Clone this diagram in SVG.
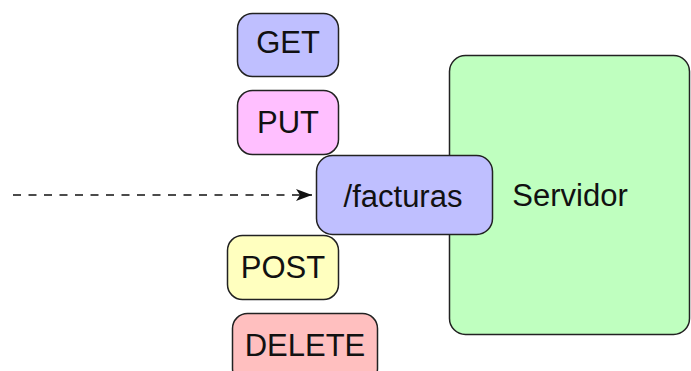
<svg xmlns="http://www.w3.org/2000/svg" width="691" height="371" viewBox="0 0 691 371">
  <defs>
    <style>
      .box { stroke: #222; stroke-width: 1.5; }
      .lbl { font-family: "Liberation Sans", Arial, Helvetica, sans-serif; font-size: 31px; fill: #111; text-anchor: middle; }
      .edge { fill: none; stroke: #111; stroke-width: 1.5; stroke-dasharray: 8 7.5; }
    </style>
    <marker id="arrow" viewBox="0 0 16 12" refX="16" refY="6" markerWidth="16" markerHeight="12" markerUnits="userSpaceOnUse" orient="auto">
      <path d="M0,0 L16,6 L0,12 L4,6 Z" fill="#111"/>
    </marker>
  </defs>
  <rect width="691" height="371" fill="#fff"/>

  <g id="servidor">
    <rect class="box" x="449.5" y="55.5" width="240" height="279" rx="16" fill="#bfffbf"/>
    <text class="lbl" x="570" y="206">Servidor</text>
  </g>

  <g id="get">
    <rect class="box" x="237.5" y="13.5" width="101" height="63" rx="15" fill="#bfbfff"/>
    <text class="lbl" x="288" y="53">GET</text>
  </g>

  <g id="put">
    <rect class="box" x="237.5" y="90.5" width="101" height="64" rx="15" fill="#ffbfff"/>
    <text class="lbl" x="288" y="133">PUT</text>
  </g>

  <g id="facturas">
    <rect class="box" x="316.5" y="155.5" width="176" height="79" rx="16" fill="#bfbfff"/>
    <text class="lbl" x="403" y="207">/facturas</text>
  </g>

  <g id="post">
    <rect class="box" x="227.5" y="235.5" width="111" height="64" rx="15" fill="#ffffbf"/>
    <text class="lbl" x="283" y="278">POST</text>
  </g>

  <g id="delete">
    <rect class="box" x="232.5" y="313.5" width="145" height="70" rx="15" fill="#ffbfbf"/>
    <text class="lbl" x="305" y="356">DELETE</text>
  </g>

  <g id="connectors">
    <path class="edge" d="M13,195 L312,195" marker-end="url(#arrow)"/>
  </g>
</svg>
